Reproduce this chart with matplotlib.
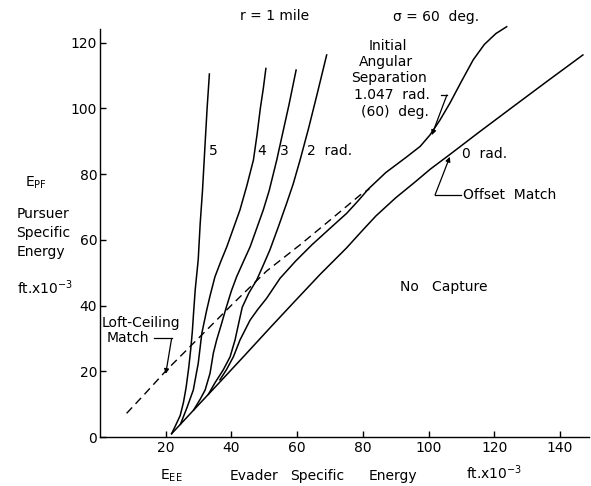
import matplotlib
matplotlib.use('Agg')
import matplotlib.pyplot as plt

# boundary curves (E_EE, E_PF) in ft x 10^-3
zero_rad_x = [21.8, 26, 30, 36, 44, 52, 59, 67, 75, 80, 84, 90, 96, 100.5, 106.5, 115, 125, 136, 147]
zero_rad_y = [1, 5.5, 9.8, 16.2, 24.8, 33.5, 41, 49.5, 57.5, 63, 67.3, 72.8, 77.7, 81.5, 86, 92.5, 100, 108.2, 116.3]

rad5_x = [21.8, 23, 24.4, 25.4, 26.2, 27, 27.6, 28.1, 28.5, 29, 29.5, 29.9, 30.5, 31.2, 32, 32.6, 33.3]
rad5_y = [1, 3.5, 6.5, 10.5, 15, 21, 26.5, 32, 38, 45, 50, 54, 65, 75, 89.4, 100, 110.5]

rad4_x = [24.5, 26.5, 28.4, 29.9, 31, 32.5, 33.5, 35, 36.8, 38.6, 40.6, 42.6, 44.7, 46.7, 47.8, 48.8, 49.7, 50.5]
rad4_y = [3.9, 9, 14.3, 22.4, 31.6, 38.7, 43, 48.8, 53.5, 57.9, 63.5, 69.1, 76.5, 84.3, 92, 100, 106, 112.2]

rad3_x = [28.5, 30.5, 32, 33.5, 34.5, 35.5, 37, 38.3, 40, 41.6, 43.7, 45.7, 47.7, 49.7, 51.5, 53.8, 55.5, 57.5, 59.7]
rad3_y = [8.2, 11.5, 14.3, 19.4, 25.5, 29.5, 34.5, 39, 44.5, 48.8, 53.5, 57.9, 63.5, 69.1, 75, 84.3, 92, 101, 111.7]

rad2_x = [33, 35, 37.5, 39.6, 41.1, 42.3, 43.3, 45.3, 47.7, 49.7, 51.7, 54.3, 56.8, 58.8, 60.9, 63.5, 66, 69]
rad2_y = [13, 16.5, 20.4, 24.4, 29.5, 35, 39.5, 43.8, 47.8, 52.3, 56.9, 64, 71.1, 77, 84.3, 94, 104, 116.3]

rad1047_x = [36.5, 38.5, 40.6, 42.6, 45.7, 48, 50.7, 54.8, 59.5, 64.5, 70, 75.1, 78.5, 81.7, 87, 93.4,
             97.5, 100.5, 103.5, 106.5, 110, 113.6, 117, 120.5, 123.8]
rad1047_y = [17.4, 20.5, 24.4, 29.5, 35.6, 38.8, 42.2, 48.3, 53.5, 58.5, 63.5, 68.1, 71.8, 75.5, 80.5, 85.3,
             88.5, 92, 96.5, 101.6, 108.2, 114.8, 119.5, 122.8, 124.9]

# loft-ceiling match (dashed)
loft_x = [8.1, 14, 20.3, 30.4, 40.6, 50.7, 60.9, 70, 76, 79.6, 82]
loft_y = [7.2, 13.5, 20.4, 30.5, 40.7, 50.5, 58.5, 66, 71, 74, 75.5]

x_ticks = [20, 40, 60, 80, 100, 120, 140]
y_ticks = [0, 20, 40, 60, 80, 100, 120]

W, H = 591, 486
fig = plt.figure(figsize=(W / 100, H / 100), dpi=100)
scale = 3.285  # pixels per unit, same on both axes
xmax, ymax = 149, 125.5
ax = fig.add_axes([100 / W, (H - 437) / H, xmax * scale / W, ymax * scale / H])
ax.set_xlim(0, xmax)
ax.set_ylim(0, ymax)

for sp in ['top', 'right']:
    ax.spines[sp].set_visible(False)
ax.spines['left'].set_bounds(0, 124.2)
ax.spines['left'].set_linewidth(1.0)
ax.spines['bottom'].set_linewidth(1.0)
ax.set_xticks(x_ticks)
ax.set_yticks(y_ticks)
ax.tick_params(direction='in', length=4, width=1, labelsize=10)
ax.tick_params(axis='y', pad=2)
ax.tick_params(axis='x', pad=3)

kw = dict(color='k', lw=1.1, clip_on=False)
ax.plot(zero_rad_x, zero_rad_y, **kw)
ax.plot(rad5_x, rad5_y, **kw)
ax.plot(rad4_x, rad4_y, **kw)
ax.plot(rad3_x, rad3_y, **kw)
ax.plot(rad2_x, rad2_y, **kw)
ax.plot(rad1047_x, rad1047_y, **kw)
ax.plot(loft_x, loft_y, color='k', lw=1.0, dashes=(5.8, 3.6))

fs = 10
# curve labels
ax.text(33.2, 87.1, '5', fontsize=fs, va='center')
ax.text(47.8, 87.1, '4', fontsize=fs, va='center')
ax.text(54.8, 87.1, '3', fontsize=fs, va='center')
ax.text(63.0, 87.1, '2  rad.', fontsize=fs, va='center')
ax.text(110.2, 86.1, '0  rad.', fontsize=fs, va='center')
ax.text(91.3, 45.7, 'No   Capture', fontsize=fs, va='center')

# initial angular separation note
for s, x, y in [('Initial', 87.5, 118.9), ('Angular', 86.9, 114.2), ('Separation', 88.0, 109.4),
                ('1.047  rad.', 89.0, 104.1), ('(60)  deg.', 89.8, 98.8)]:
    ax.text(x, y, s, fontsize=fs, ha='center', va='center')

arrow = dict(arrowstyle='-|>', color='k', lw=0.9, mutation_scale=7, shrinkA=0, shrinkB=0)
ax.plot([103.8, 105.6], [104.1, 104.1], color='k', lw=0.9)
ax.annotate('', xy=(101, 91.9), xytext=(105.6, 104.1), arrowprops=arrow)

ax.text(110.5, 73.7, 'Offset  Match', fontsize=fs, va='center')
ax.plot([102, 110], [73.7, 73.7], color='k', lw=0.9)
ax.annotate('', xy=(106.5, 85.3), xytext=(102, 73.7), arrowprops=arrow)

ax.text(0.6, 33.6, 'Loft-Ceiling', fontsize=fs, va='baseline')
ax.text(2.0, 28.9, 'Match', fontsize=fs, va='baseline')
ax.plot([16.4, 21.8], [30.0, 30.0], color='k', lw=0.9)
ax.annotate('', xy=(20, 19.2), xytext=(21.8, 30.0), arrowprops=arrow)


def ftext(px, py, s, **k):
    fig.text(px / W, 1 - py / H, s, fontsize=fs, va='baseline', **k)


ftext(240, 20, 'r = 1 mile')
ftext(393, 21.5, 'σ = 60  deg.')
ftext(25, 187, r'$\mathregular{E_{PF}}$')
ftext(17, 218, 'Pursuer')
ftext(16, 237, 'Specific')
ftext(17, 256, 'Energy')
ftext(17, 294, r'ft.x$\mathregular{10^{-3}}$')
ftext(160, 480, r'$\mathregular{E_{EE}}$')
ftext(230, 480, 'Evader')
ftext(290, 480, 'Specific')
ftext(369, 480, 'Energy')
ftext(466, 479, r'ft.x$\mathregular{10^{-3}}$')

fig.savefig('out.png', dpi=100)
